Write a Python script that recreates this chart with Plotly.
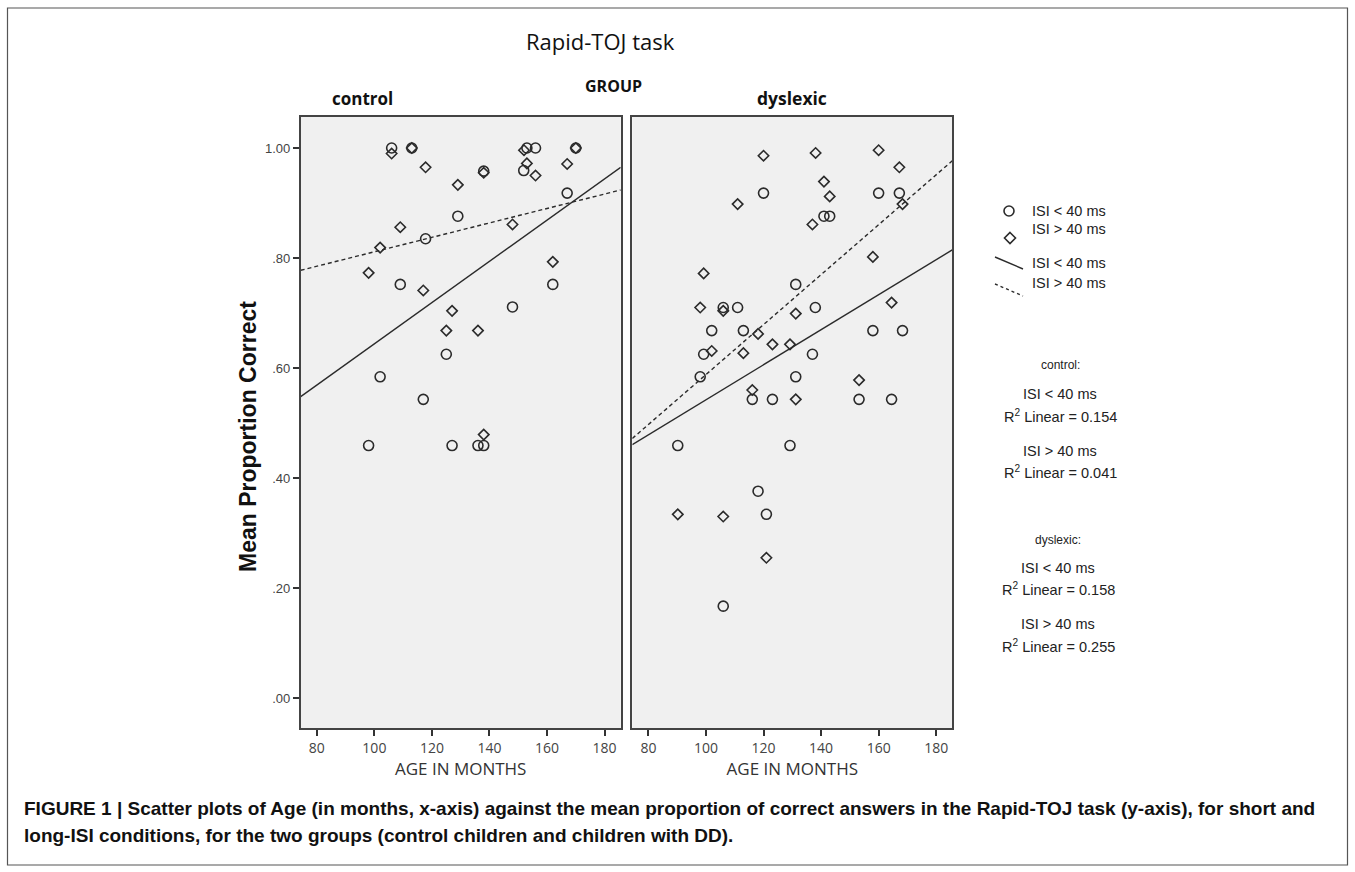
import plotly.graph_objects as go

# ---------------- data ----------------
ctrl_short_age = [106, 113, 129, 117.8, 109, 138, 151.9, 153, 156, 170, 167, 162, 148, 125, 102, 117, 98, 127, 136, 138]
ctrl_short_val = [1.00, 1.00, 0.876, 0.835, 0.752, 0.958, 0.959, 1.00, 1.00, 1.00, 0.918, 0.752, 0.711, 0.625, 0.584, 0.543, 0.459, 0.459, 0.459, 0.459]

ctrl_long_age = [106, 113, 117.8, 129, 138, 152, 153, 156, 170, 167, 109, 148, 102, 98, 117, 162, 127, 125, 136, 138]
ctrl_long_val = [0.99, 1.00, 0.965, 0.933, 0.955, 0.996, 0.972, 0.95, 1.00, 0.971, 0.856, 0.861, 0.819, 0.773, 0.741, 0.793, 0.704, 0.668, 0.668, 0.479]

dys_short_age = [120, 141, 143, 160, 167.2, 131.2, 106, 111, 138, 102, 113, 158, 168.3, 99.2, 137, 98, 131.2, 116.1, 123.1, 153.2, 164.5, 90.2, 129.2, 118.1, 121, 106]
dys_short_val = [0.918, 0.876, 0.876, 0.918, 0.918, 0.752, 0.710, 0.710, 0.710, 0.668, 0.668, 0.668, 0.668, 0.625, 0.625, 0.584, 0.584, 0.543, 0.543, 0.543, 0.543, 0.459, 0.459, 0.376, 0.334, 0.167]

dys_long_age = [120, 138.1, 160, 167.2, 111, 141, 143, 137, 168.3, 158, 99.2, 164.5, 98, 106, 131.2, 118.1, 102, 113, 123.1, 129.2, 153.2, 116.1, 131.2, 90.2, 106, 121]
dys_long_val = [0.986, 0.991, 0.996, 0.965, 0.898, 0.939, 0.912, 0.861, 0.898, 0.802, 0.772, 0.719, 0.710, 0.704, 0.699, 0.662, 0.631, 0.627, 0.643, 0.643, 0.578, 0.560, 0.543, 0.334, 0.330, 0.255]

# linear fit lines (intercept, slope)
fit_intercepts = {"ctrl_short": 0.269, "ctrl_long": 0.680, "dys_short": 0.224, "dys_long": 0.134}
fit_slopes = {"ctrl_short": 0.00375, "ctrl_long": 0.001313, "dys_short": 0.003183, "dys_long": 0.004541}

x_range = [74.4, 185.6]
y_range = [-0.0545, 1.0564]
x_ticks = [80, 100, 120, 140, 160, 180]
y_ticks = [0.0, 0.2, 0.4, 0.6, 0.8, 1.0]
y_ticktext = [".00", ".20", ".40", ".60", ".80", "1.00"]

r2_labels = ["0.154", "0.041", "0.158", "0.255"]

# ---------------- figure ----------------
W, H = 1355, 872
INK = "#2b2b2b"

def px(x):
    return x / W

def py(y):
    return 1 - y / H

fig = go.Figure()

def add_points(ages, vals, symbol, size, xa, ya):
    fig.add_trace(go.Scatter(
        x=ages, y=vals, mode="markers", xaxis=xa, yaxis=ya, showlegend=False,
        marker=dict(symbol=symbol, size=size, color=INK, line=dict(color=INK, width=1.6)),
        hoverinfo="x+y"))

def add_fit(key, dash, xa, ya):
    b, m = fit_intercepts[key], fit_slopes[key]
    xs = x_range
    ys = [b + m * x for x in xs]
    fig.add_trace(go.Scatter(
        x=xs, y=ys, mode="lines", xaxis=xa, yaxis=ya, showlegend=False,
        line=dict(color=INK, width=1.4, dash=dash), hoverinfo="skip"))

add_fit("ctrl_short", "solid", "x", "y")
add_fit("ctrl_long", "4px,3px", "x", "y")
add_fit("dys_short", "solid", "x2", "y2")
add_fit("dys_long", "4px,3px", "x2", "y2")

add_points(ctrl_short_age, ctrl_short_val, "circle-open", 10, "x", "y")
add_points(ctrl_long_age, ctrl_long_val, "diamond-open", 8, "x", "y")
add_points(dys_short_age, dys_short_val, "circle-open", 10, "x2", "y2")
add_points(dys_long_age, dys_long_val, "diamond-open", 8, "x2", "y2")

panel_top, panel_bot = 117, 728
ydom = [py(panel_bot), py(panel_top)]

xaxis_common = dict(
    range=x_range, tickvals=x_ticks, ticks="outside", ticklen=6, tickwidth=1.6,
    tickcolor="#333", showline=True, linecolor="#444", linewidth=1.6, mirror=True,
    showgrid=False, zeroline=False,
    tickfont=dict(family="Open Sans", size=14, color="#444"),
    title=dict(text="AGE IN MONTHS", font=dict(family="Open Sans", size=17, color="#333"), standoff=2),
)

fig.update_layout(
    width=W, height=H, margin=dict(l=0, r=0, t=0, b=0),
    paper_bgcolor="white", plot_bgcolor="#f0f0f0",
    xaxis=dict(domain=[px(300.7), px(620.7)], anchor="y", **xaxis_common),
    xaxis2=dict(domain=[px(632.3), px(952.3)], anchor="y2", **xaxis_common),
    yaxis=dict(domain=ydom, range=y_range, tickvals=y_ticks, ticktext=y_ticktext,
               ticks="outside", ticklen=6, tickwidth=1.6, tickcolor="#333",
               showline=True, linecolor="#444", linewidth=1.6, mirror=True,
               showgrid=False, zeroline=False,
               tickfont=dict(family="Liberation Sans", size=13, color="#444")),
    yaxis2=dict(domain=ydom, range=y_range, anchor="x2", showticklabels=False, ticks="",
                showline=True, linecolor="#444", linewidth=1.6, mirror=True,
                showgrid=False, zeroline=False),
    showlegend=False,
)

annotations = []

def txt(text, x, y, size, family="Liberation Sans", color="#222", xanchor="center", bold=False, angle=0):
    if bold:
        text = "<b>" + text + "</b>"
    annotations.append(dict(text=text, x=px(x), y=py(y), xref="paper", yref="paper",
                            xanchor=xanchor, yanchor="middle", showarrow=False, textangle=angle,
                            font=dict(family=family, size=size, color=color)))

txt("Rapid-TOJ task", 600, 41, 22, family="Open Sans", color="#111")
txt("GROUP", 613, 86, 16, family="Open Sans", color="#111", bold=True)
txt("control", 362, 98, 17, family="Open Sans", color="#111", bold=True)
txt("dyslexic", 792, 98, 17.5, family="Open Sans", color="#111", bold=True)

# y axis title
txt("Mean Proportion Correct", 248, 437, 23, color="#111", bold=True, angle=-90)

# legend texts
txt("ISI &lt; 40 ms", 1030, 211, 14.5, xanchor="left")
txt("ISI &gt; 40 ms", 1030, 229, 14.5, xanchor="left")
txt("ISI &lt; 40 ms", 1030, 263, 14.5, xanchor="left")
txt("ISI &gt; 40 ms", 1030, 283, 14.5, xanchor="left")

# R² block
txt("control:", 1060, 365, 12)
txt("ISI &lt; 40 ms", 1060, 394, 14.5)
txt("R<sup>2</sup> Linear = " + r2_labels[0], 1060, 416, 14.5)
txt("ISI &gt; 40 ms", 1060, 451, 14.5)
txt("R<sup>2</sup> Linear = " + r2_labels[1], 1060, 472, 14.5)
txt("dyslexic:", 1058, 540, 12)
txt("ISI &lt; 40 ms", 1058, 568, 14.5)
txt("R<sup>2</sup> Linear = " + r2_labels[2], 1058, 589, 14.5)
txt("ISI &gt; 40 ms", 1058, 624, 14.5)
txt("R<sup>2</sup> Linear = " + r2_labels[3], 1058, 646, 14.5)

# caption
txt("FIGURE 1 | Scatter plots of Age (in months, x-axis) against the mean proportion of correct answers in the Rapid-TOJ task (y-axis), for short and",
    22, 808, 19, color="#111", xanchor="left", bold=True)
txt("long-ISI conditions, for the two groups (control children and children with DD).",
    22, 835, 19, color="#111", xanchor="left", bold=True)

fig.update_layout(annotations=annotations)

# legend glyphs and outer frame
shapes = []
shapes.append(dict(type="rect", xref="paper", yref="paper", x0=px(7.5), x1=px(1347.5), y0=py(865), y1=py(8),
                   line=dict(color="#555", width=1.2), fillcolor="rgba(0,0,0,0)"))
shapes.append(dict(type="circle", xref="paper", yref="paper", x0=px(1004), x1=px(1014), y0=py(216), y1=py(206),
                   line=dict(color=INK, width=1.6)))
shapes.append(dict(type="path", xref="paper", yref="paper",
                   path=f"M {px(1010)} {py(232.5)} L {px(1015.5)} {py(238)} L {px(1010)} {py(243.5)} L {px(1004.5)} {py(238)} Z",
                   line=dict(color=INK, width=1.6)))
shapes.append(dict(type="line", xref="paper", yref="paper", x0=px(995), x1=px(1023), y0=py(257), y1=py(269),
                   line=dict(color=INK, width=1.4)))
shapes.append(dict(type="line", xref="paper", yref="paper", x0=px(995), x1=px(1023), y0=py(284), y1=py(296),
                   line=dict(color=INK, width=1.4, dash="3px,3px")))
fig.update_layout(shapes=shapes)

fig.write_html("out.html", config={"displayModeBar": False},
               post_script="document.body.style.margin='0';")
